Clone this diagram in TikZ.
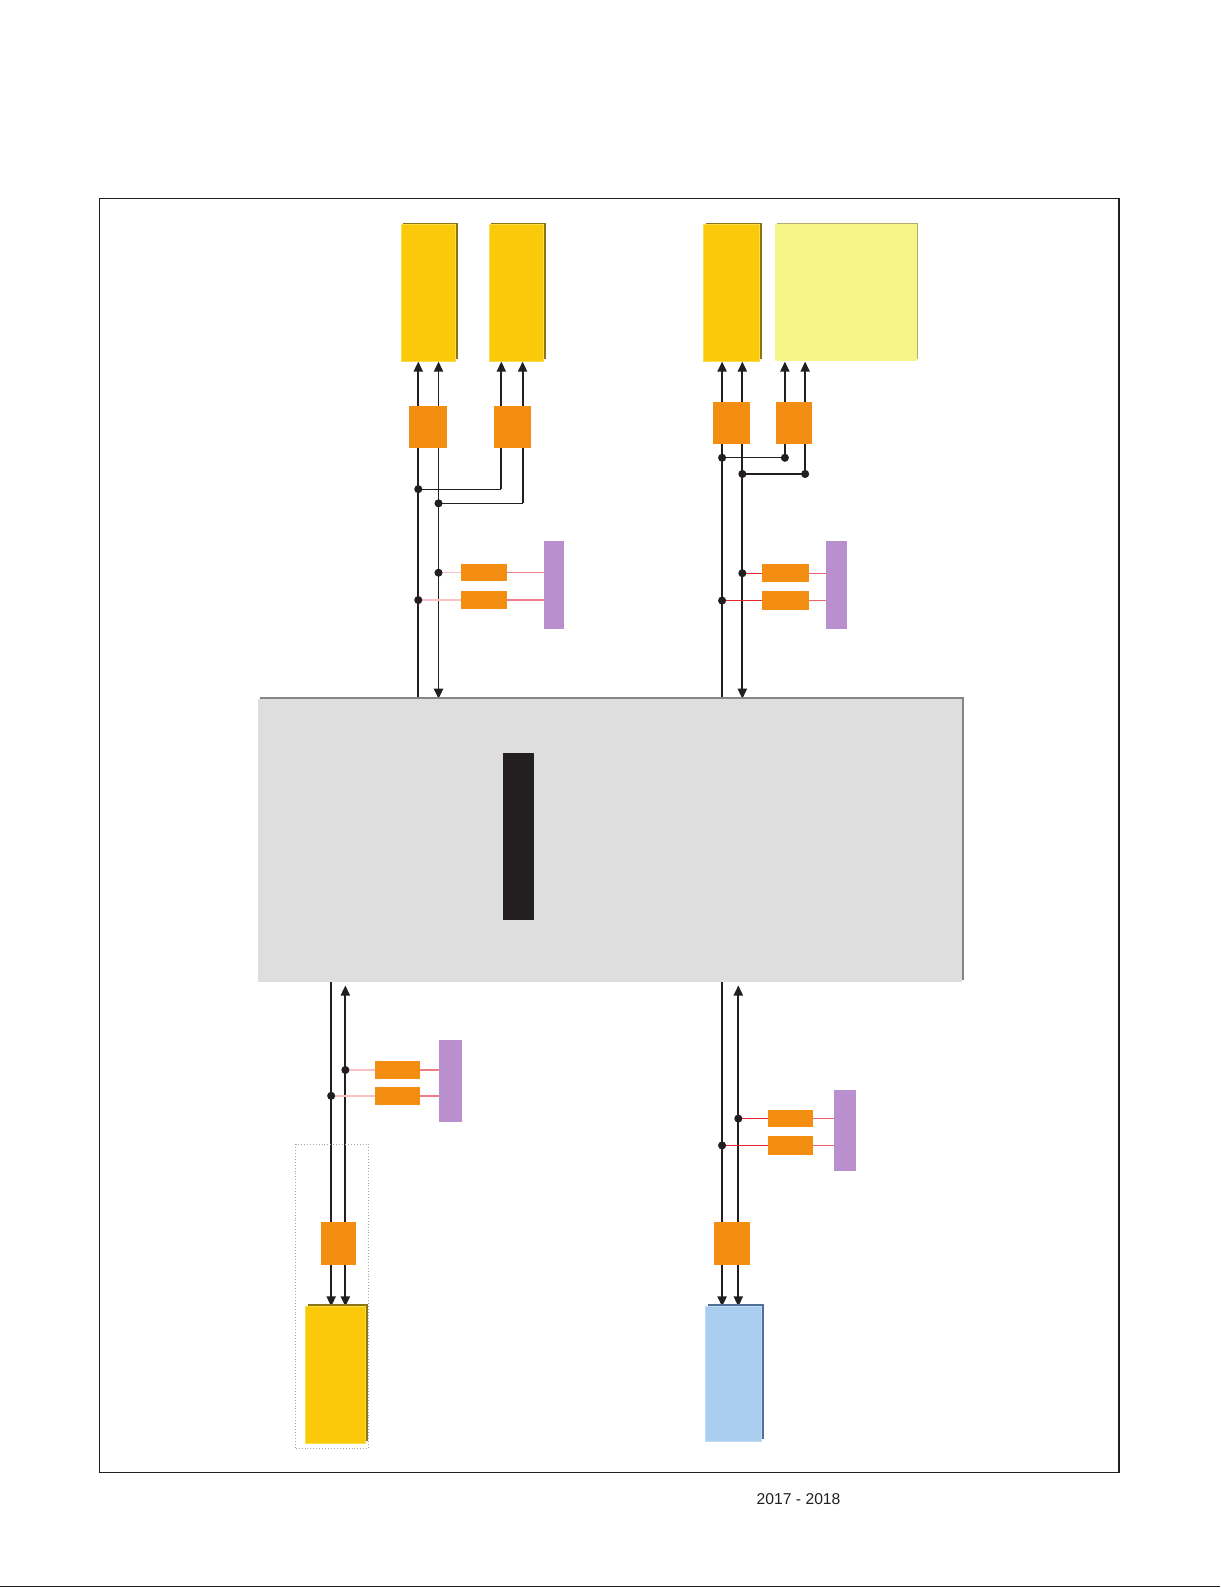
\documentclass[tikz,border=0pt]{standalone}
\usepackage{fontspec}
\setmainfont{Liberation Sans}
\usetikzlibrary{arrows.meta,shadows,backgrounds}
\definecolor{ink}{HTML}{231F20}
\definecolor{yel}{HTML}{FACA0A}
\definecolor{yelsh}{HTML}{8C7416}
\definecolor{yeledge}{HTML}{FBDD45}
\definecolor{lyel}{HTML}{F7F587}
\definecolor{lyelsh}{HTML}{B0AE6A}
\definecolor{org}{HTML}{F48E13}
\definecolor{purp}{HTML}{B990CD}
\definecolor{gbox}{HTML}{DEDEDE}
\definecolor{gedge}{HTML}{858585}
\definecolor{blu}{HTML}{A8CDEE}
\definecolor{blush}{HTML}{4F6F9B}
\definecolor{pinkA}{HTML}{F6C2C5}
\definecolor{pinkB}{HTML}{EE7C84}
\definecolor{redA}{HTML}{E2262E}
\definecolor{redB}{HTML}{EF646C}
\tikzset{
  box/.style={rectangle,inner sep=0pt,outer sep=0pt},
  ybox/.style={box,fill=yel,draw=yeledge,line width=1pt,
    general shadow={fill=yelsh,shadow xshift=2.2pt,shadow yshift=2.2pt}},
  lybox/.style={box,fill=lyel,draw=lyel,line width=1pt,
    general shadow={fill=lyelsh,shadow xshift=1.5pt,shadow yshift=1.5pt}},
  bbox/.style={box,fill=blu,draw=blu!70!white,line width=1pt,
    general shadow={fill=blush,shadow xshift=2.2pt,shadow yshift=2.2pt}},
  obox/.style={box,fill=org},
  pbox/.style={box,fill=purp},
  mainbox/.style={box,fill=gbox,
    general shadow={fill=gedge,shadow xshift=2pt,shadow yshift=2pt}},
  trunk/.style={draw=ink,line width=1.8pt},
  arr/.style={trunk,-{Triangle[length=10pt,width=9pt]}},
  darr/.style={trunk,{Triangle[length=10pt,width=9pt]}-{Triangle[length=10pt,width=9pt]}},
  branch/.style={draw=ink,line width=1.3pt},
  jdot/.style={circle,fill=ink,inner sep=0pt,minimum size=8pt},
  lnA/.style={draw=pinkA,line width=1.4pt},
  lnB/.style={draw=pinkB,line width=1.4pt},
  lnC/.style={draw=redA,line width=1.4pt},
  lnD/.style={draw=redB,line width=1.4pt},
}
\begin{document}
\begin{tikzpicture}[x=1pt,y=-1pt]
\useasboundingbox (0,0) rectangle (1205,1568);
% frame and page rule
\node[box,draw=ink,line width=1.3pt,minimum width=1007pt,minimum height=1258pt] (frame) at (601.5,825) {};
\draw[draw=ink,line width=1.6pt] (0,1566.5) -- (1205,1566.5);
\node[font=\fontsize{15.5pt}{18pt}\selectfont,text=ink,inner sep=0pt] (year) at (788.5,1480) {2017 - 2018};
% main box
\node[mainbox,minimum width=695pt,minimum height=280pt] (main) at (602.5,830) {};
\node[box,fill=ink,minimum width=30pt,minimum height=164pt] (bar) at (512,826) {};
% top boxes
\node[ybox,minimum width=54pt,minimum height=135pt] (b1) at (423,289.5) {};
\node[ybox,minimum width=54pt,minimum height=135pt] (b2) at (510,289.5) {};
\node[ybox,minimum width=55pt,minimum height=135pt] (b3) at (722.5,289.5) {};
\node[lybox,minimum width=139pt,minimum height=134pt] (b4) at (835.5,289) {};
% top orange
\node[obox,minimum width=37pt,minimum height=41pt] (o1) at (422.5,421.5) {};
\node[obox,minimum width=36pt,minimum height=41pt] (o2) at (506,421.5) {};
\node[obox,minimum width=37pt,minimum height=41pt] (o3) at (722.5,417.5) {};
\node[obox,minimum width=36pt,minimum height=41pt] (o4) at (784,417.5) {};
% side modules
\node[pbox,minimum width=20pt,minimum height=87pt] (p1) at (547,577.5) {};
\node[obox,minimum width=46pt,minimum height=17pt] (s1) at (478,565.5) {};
\node[obox,minimum width=46pt,minimum height=17pt] (s2) at (478,592.5) {};
\node[pbox,minimum width=20pt,minimum height=87pt] (p2) at (826,577.5) {};
\node[obox,minimum width=47pt,minimum height=18pt] (s3) at (775.5,566) {};
\node[obox,minimum width=47pt,minimum height=18pt] (s4) at (775.5,593) {};
\node[pbox,minimum width=23pt,minimum height=81pt] (p3) at (444.5,1067.5) {};
\node[obox,minimum width=45pt,minimum height=17pt] (s5) at (392.5,1056.5) {};
\node[obox,minimum width=45pt,minimum height=18pt] (s6) at (392.5,1082) {};
\node[pbox,minimum width=22pt,minimum height=80pt] (p4) at (834,1116) {};
\node[obox,minimum width=45pt,minimum height=17pt] (s7) at (780.5,1104.5) {};
\node[obox,minimum width=45pt,minimum height=18pt] (s8) at (780.5,1131) {};
% bottom
\node[box,draw=gray!70,dotted,line width=0.9pt,minimum width=72pt,minimum height=300pt] (grp) at (328,1280) {};
\node[obox,minimum width=35pt,minimum height=42pt] (o5) at (334.5,1228) {};
\node[ybox,minimum width=59pt,minimum height=135pt] (b5) at (331.5,1357.5) {};
\node[obox,minimum width=36pt,minimum height=42pt] (o6) at (723,1228) {};
\node[bbox,minimum width=55pt,minimum height=133pt] (b6) at (724.5,1356.5) {};
% coordinates
\coordinate (tl1) at (413,690);
\coordinate (tl2) at (433,690);
\coordinate (tr1) at (713,690);
\coordinate (tr2) at (733,690);
\coordinate (bl1) at (327,970);
\coordinate (bl2) at (341,970);
\coordinate (br1) at (713,970);
\coordinate (br2) at (729,970);
\coordinate (ka) at (495,483);
\coordinate (kb) at (516,497);
\begin{scope}[on background layer]
% top-left trunks
\draw[arr] (tl1) -- (tl1 |- b1.south);
\draw[darr] (tl2) -- (tl2 |- b1.south);
\draw[branch] (413,483) -- (ka);
\draw[arr] (ka) -- (ka |- b2.south);
\draw[branch] (433,497) -- (kb);
\draw[arr] (kb) -- (kb |- b2.south);
% top-right trunks
\draw[arr] (tr1) -- (tr1 |- b3.south);
\draw[darr] (tr2) -- (tr2 |- b3.south);
\draw[branch] (713,452) -- (775,452);
\draw[arr] (775,452) -- (775,357);
\draw[branch] (733,468) -- (795,468);
\draw[arr] (795,468) -- (795,357);
% bottom-left trunks
\draw[arr] (bl1) -- (bl1 |- b5.north);
\draw[darr] (341,1290) -- (341,973);
% bottom-right trunks
\draw[arr] (br1) -- (br1 |- b6.north);
\draw[darr] (729,1290) -- (729,973);
% side lines
\draw[lnA] (433,565.5) -- (s1.west);
\draw[lnB] (s1.east) -- (s1.east -| p1.west);
\draw[lnA] (413,592.5) -- (s2.west);
\draw[lnB] (s2.east) -- (s2.east -| p1.west);
\draw[lnC] (733,566) -- (s3.west);
\draw[lnD] (s3.east) -- (s3.east -| p2.west);
\draw[lnC] (713,593) -- (s4.west);
\draw[lnD] (s4.east) -- (s4.east -| p2.west);
\draw[lnA] (341,1056.5) -- (s5.west);
\draw[lnB] (s5.east) -- (s5.east -| p3.west);
\draw[lnA] (327,1082) -- (s6.west);
\draw[lnB] (s6.east) -- (s6.east -| p3.west);
\draw[lnC] (729,1104.5) -- (s7.west);
\draw[lnD] (s7.east) -- (s7.east -| p4.west);
\draw[lnC] (713,1131) -- (s8.west);
\draw[lnD] (s8.east) -- (s8.east -| p4.west);
\end{scope}
% junction dots
\node[jdot] (j1) at (413,483) {};
\node[jdot] (j2) at (433,497) {};
\node[jdot] (j3) at (713,452) {};
\node[jdot] (j4) at (775,452) {};
\node[jdot] (j5) at (733,468) {};
\node[jdot] (j6) at (795,468) {};
\node[jdot] (j7) at (433,565.5) {};
\node[jdot] (j8) at (413,592.5) {};
\node[jdot] (j9) at (733,566) {};
\node[jdot] (j10) at (713,593) {};
\node[jdot] (j11) at (341,1056.5) {};
\node[jdot] (j12) at (327,1082) {};
\node[jdot] (j13) at (729,1104.5) {};
\node[jdot] (j14) at (713,1131) {};
\end{tikzpicture}
\end{document}
